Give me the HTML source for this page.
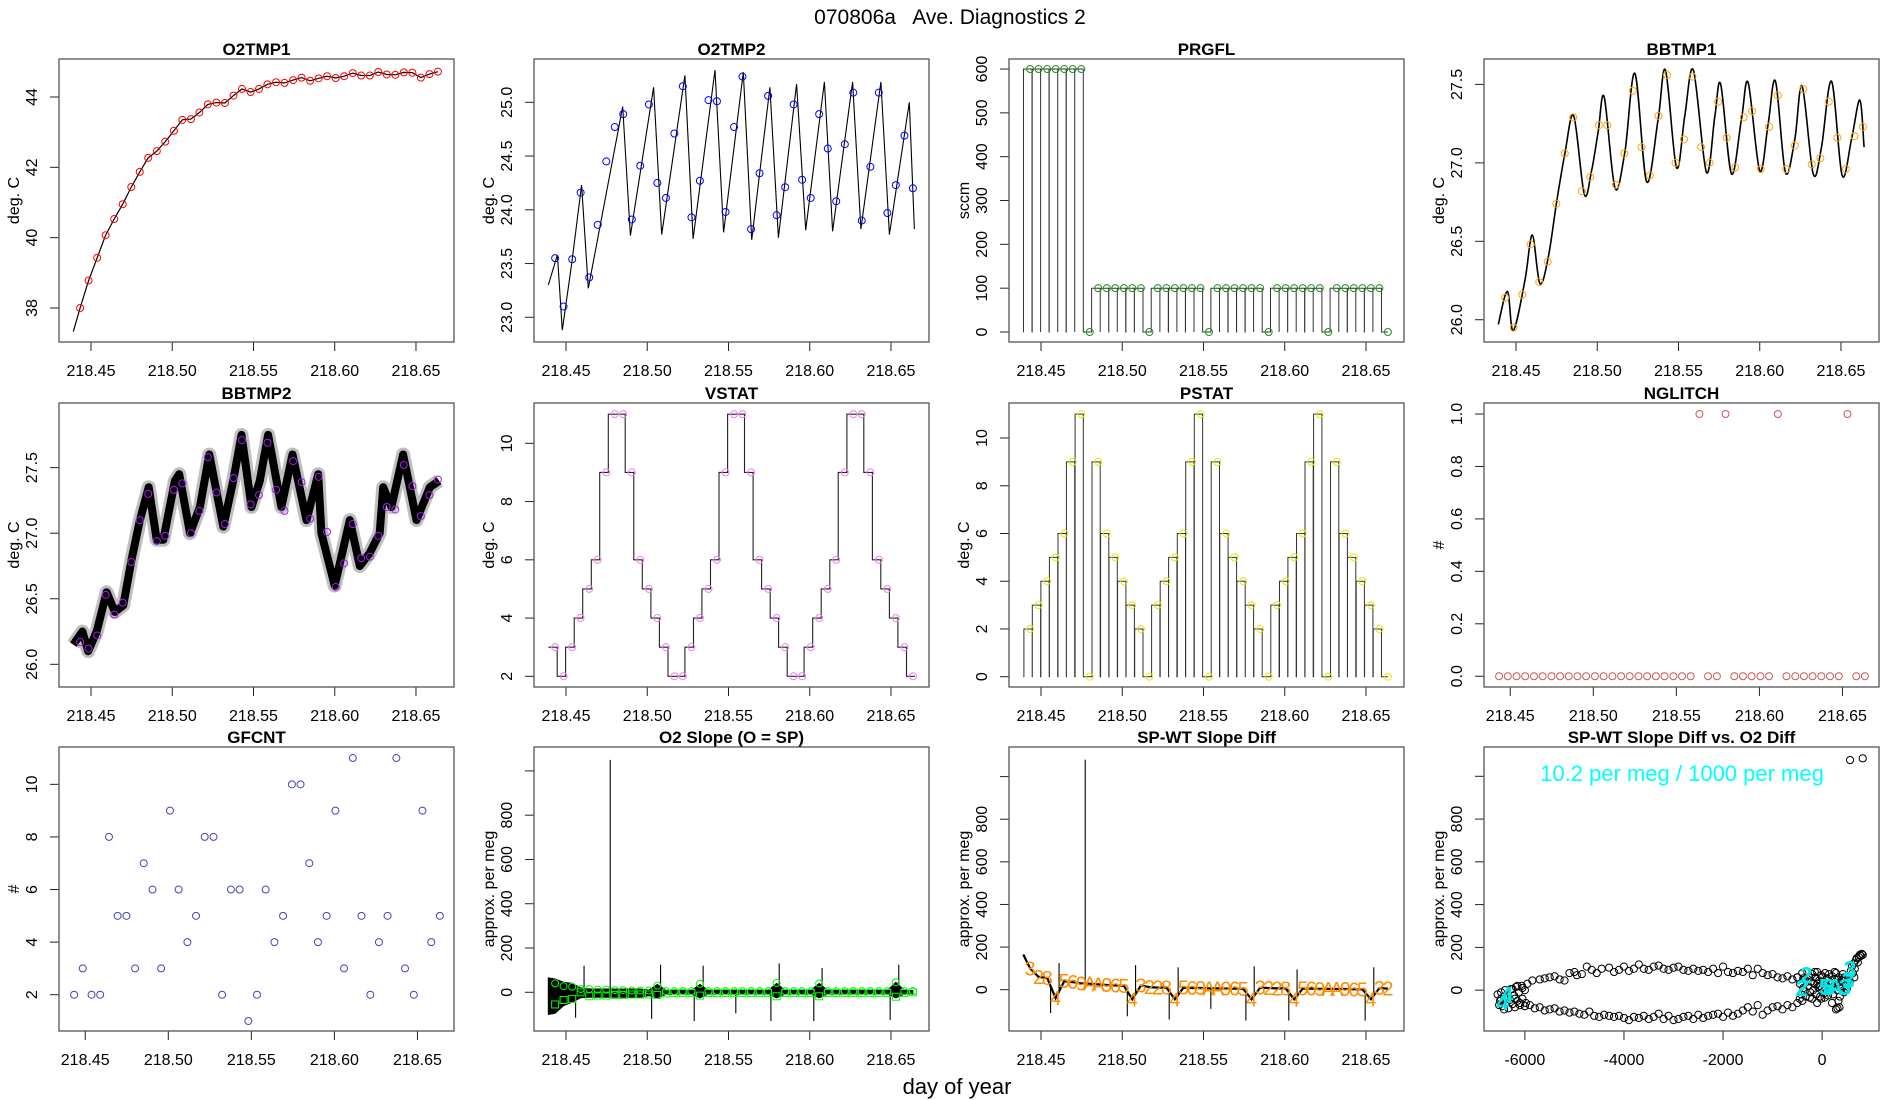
<!DOCTYPE html>
<html><head><meta charset="utf-8"><title>070806a Ave. Diagnostics 2</title>
<style>
html,body{margin:0;padding:0;background:#fff;}
svg{display:block;font-family:"Liberation Sans",sans-serif;}
</style></head>
<body>
<svg id="chart" width="1900" height="1100" viewBox="0 0 1900 1100" xmlns="http://www.w3.org/2000/svg">
<rect x="0" y="0" width="1900" height="1100" fill="#fff"/>
<text x="950" y="24" text-anchor="middle" font-size="21" style="white-space:pre">070806a   Ave. Diagnostics 2</text>
<text x="957" y="1094" text-anchor="middle" font-size="22">day of year</text>
</svg>
<script>
// ---------- shared data ----------
const markerDays = [218.4433,218.4485,218.4538,218.4590,218.4643,218.4695,218.4748,218.4800,218.4852,218.4905,218.4957,218.5010,218.5062,218.5115,218.5167,218.5219,218.5272,218.5324,218.5377,218.5429,218.5482,218.5534,218.5586,218.5639,218.5691,218.5744,218.5796,218.5849,218.5901,218.5953,218.6006,218.6058,218.6111,218.6163,218.6216,218.6268,218.6320,218.6373,218.6425,218.6478,218.6530,218.6583,218.6635];
const lineStartDay = 218.4391;
const timeTicks = [218.45,218.50,218.55,218.60,218.65];
const timeTickLabels = ["218.45","218.50","218.55","218.60","218.65"];

// O2TMP1
const o2tmp1Start = 37.33;
const o2tmp1 = [38.0,38.78,39.43,40.07,40.53,40.95,41.44,41.87,42.27,42.46,42.73,43.04,43.35,43.37,43.56,43.79,43.84,43.83,44.04,44.23,44.14,44.23,44.36,44.42,44.40,44.48,44.55,44.46,44.53,44.59,44.54,44.59,44.68,44.61,44.61,44.71,44.64,44.63,44.70,44.69,44.55,44.65,44.72];

// O2TMP2
const o2tmp2Marks = [23.55,23.10,23.54,24.16,23.37,23.86,24.45,24.77,24.89,23.91,24.41,24.98,24.25,24.11,24.71,25.15,23.93,24.27,25.02,25.01,23.98,24.77,25.24,23.82,24.34,25.06,23.95,24.21,24.98,24.28,24.11,24.89,24.57,24.08,24.61,25.09,23.90,24.40,25.09,23.97,24.23,24.69,24.20];
const o2tmp2LineDays = [218.4391,218.4447,218.4477,218.4535,218.4596,218.4637,218.4849,218.4896,218.5039,218.5089,218.5232,218.5282,218.5417,218.5470,218.5591,218.5643,218.5755,218.5807,218.5919,218.5975,218.6090,218.6141,218.6264,218.6315,218.6438,218.6490,218.6613,218.6644];
const o2tmp2Line = [23.30,23.58,22.88,23.50,24.23,23.27,24.96,23.76,25.14,23.77,25.25,23.73,25.30,23.79,25.28,23.72,25.14,23.74,25.17,23.81,25.19,23.80,25.19,23.82,25.19,23.77,25.00,23.82];

// PRGFL
const prgfl = [600,600,600,600,600,600,600,0,100,100,100,100,100,100,0,100,100,100,100,100,100,0,100,100,100,100,100,100,0,100,100,100,100,100,100,0,100,100,100,100,100,100,0];

// BBTMP1
const bbtmp1Marks = [26.14,25.95,26.16,26.48,26.24,26.37,26.74,27.06,27.29,26.82,26.91,27.24,27.24,26.86,27.06,27.46,27.10,26.92,27.30,27.56,27.00,27.15,27.55,27.10,27.00,27.39,27.16,26.97,27.29,27.33,26.96,27.23,27.43,26.96,27.11,27.47,26.99,27.03,27.39,27.16,26.96,27.17,27.23];
const bbtmp1LineDays = [218.4391,218.4447,218.4483,218.4555,218.4600,218.4647,218.4699,218.4750,218.4801,218.4855,218.4920,218.4965,218.5006,218.5043,218.5109,218.5170,218.5232,218.5304,218.5375,218.5420,218.5488,218.5539,218.5592,218.5672,218.5724,218.5760,218.5826,218.5888,218.5929,218.6000,218.6052,218.6097,218.6158,218.6216,218.6261,218.6329,218.6380,218.6442,218.6507,218.6565,218.6616,218.6642];
const bbtmp1Line = [25.97,26.18,25.93,26.25,26.54,26.23,26.40,26.75,27.06,27.30,26.80,26.95,27.20,27.42,26.84,27.07,27.57,26.88,27.28,27.59,26.97,27.30,27.59,26.94,27.30,27.50,26.93,27.28,27.51,26.95,27.25,27.52,26.94,27.15,27.49,26.93,27.10,27.52,26.92,27.15,27.40,27.10];

// BBTMP2
const bbtmp2Marks = [26.17,26.12,26.22,26.53,26.38,26.47,26.78,27.10,27.30,26.94,26.98,27.33,27.38,27.00,27.17,27.58,27.31,27.07,27.42,27.71,27.22,27.29,27.69,27.33,27.17,27.55,27.39,27.11,27.43,27.01,26.59,26.77,27.07,26.81,26.82,26.98,27.20,27.18,27.52,27.36,27.13,27.29,27.41];
const bbtmp2LineDays = [218.4391,218.4447,218.4483,218.4535,218.4596,218.4647,218.4699,218.4750,218.4801,218.4855,218.4904,218.4945,218.5016,218.5043,218.5109,218.5170,218.5228,218.5314,218.5375,218.5426,218.5488,218.5539,218.5590,218.5672,218.5740,218.5826,218.5898,218.5918,218.6000,218.6093,218.6154,218.6216,218.6277,218.6298,218.6349,218.6421,218.6503,218.6585,218.6642];
const bbtmp2Line = [26.15,26.25,26.10,26.25,26.55,26.40,26.45,26.80,27.10,27.35,26.95,26.95,27.40,27.45,27.00,27.20,27.60,27.05,27.40,27.75,27.20,27.40,27.75,27.20,27.60,27.10,27.45,27.00,26.60,27.10,26.75,26.85,27.00,27.35,27.20,27.60,27.10,27.35,27.40];

// VSTAT / PSTAT / NGLITCH / GFCNT
const vstat = [3,2,3,4,5,6,9,11,11,9,6,5,4,3,2,2,3,4,5,6,9,11,11,9,6,5,4,3,2,2,3,4,5,6,9,11,11,9,6,5,4,3,2];
const pstat = [2,3,4,5,6,9,11,0,9,6,5,4,3,2,0,3,4,5,6,9,11,0,9,6,5,4,3,2,0,3,4,5,6,9,11,0,9,6,5,4,3,2,0];
const nglitch = [0,0,0,0,0,0,0,0,0,0,0,0,0,0,0,0,0,0,0,0,0,0,0,1,0,0,1,0,0,0,0,0,1,0,0,0,0,0,0,0,1,0,0];
const gfcnt = [2,3,2,2,8,5,5,3,7,6,3,9,6,4,5,8,8,2,6,6,1,2,6,4,5,10,10,7,4,5,9,3,11,5,2,4,5,11,3,2,9,4,5];

// O2 slope
const o2Upper = [60,45,40,20,15,15,15,15,15,15,15,10,35,10,8,8,8,35,8,8,8,8,8,8,8,8,40,8,8,8,8,40,8,8,8,8,8,8,8,8,45,8,8];
const o2Lower = [-95,-60,-45,-25,-22,-22,-22,-22,-22,-22,-22,-15,-25,-10,-8,-8,-8,-25,-8,-8,-8,-8,-8,-8,-8,-8,-25,-8,-8,-8,-8,-25,-8,-8,-8,-8,-8,-8,-8,-8,-25,-8,-8];
const o2StartUpper = 65, o2StartLower = -100;
const o2Circles = [40,28,25,15,15,12,12,10,10,8,8,8,30,5,5,5,5,38,5,5,5,5,5,5,5,5,42,5,5,5,5,40,5,5,5,5,5,5,5,5,45,5,5];
const o2Squares = [-55,-35,-30,0,-18,-15,-15,-12,-12,-10,-10,-10,-12,-5,-3,-3,-3,-15,-3,-3,-3,-3,-3,-3,-3,-3,-18,-3,-3,-3,-3,-18,-3,-3,-3,-3,-3,-3,-3,-3,-20,-3,0];
const o2SpikeDays = [218.4559,218.4611,218.4772,218.5027,218.5082,218.5289,218.5344,218.5545,218.5761,218.5812,218.6025,218.6076,218.6495,218.6548];
const o2SpikeVals = [-115,120,1050,-120,125,-130,120,-95,-130,130,-130,110,-125,125];

// SP-WT slope diff
const spwtStart = 165;
const spwtVals = [100,60,55,-40,40,35,30,28,25,22,20,18,-45,20,12,10,10,-45,10,8,8,6,6,5,5,4,-45,10,8,6,6,-45,5,5,4,4,3,3,2,2,-45,8,5];
const spwtLabels = ["3","2","8","4","5","6","9","A","A","9","6","5","4","3","2","2","8","4","5","6","9","A","A","9","6","5","4","3","2","2","8","4","5","6","9","A","A","9","6","5","4","3","2"];
const spwtSpikeDays = [218.4559,218.4611,218.4772,218.5031,218.5082,218.5289,218.5344,218.5545,218.5761,218.5812,218.6025,218.6076,218.6495,218.6548];
const spwtSpikeVals = [-110,125,1080,-125,115,-140,105,-90,-145,110,-145,95,-145,105];

// scatter: SP-WT slope diff vs O2 diff
const upperArc = [[-6250,5],[-6150,20],[-6050,10],[-5950,30],[-5850,45],[-5700,50],[-5600,55],[-5500,60],[-5400,65],[-5300,50],[-5200,45],[-5100,80],[-5000,85],[-4950,70],[-4850,75],[-4750,110],[-4650,95],[-4550,80],[-4450,100],[-4300,105],[-4200,85],[-4100,95],[-4000,110],[-3900,90],[-3800,100],[-3700,120],[-3600,100],[-3500,95],[-3400,110],[-3300,115],[-3200,100],[-3100,95],[-3000,105],[-2900,110],[-2800,95],[-2700,90],[-2600,100],[-2500,90],[-2400,95],[-2300,85],[-2200,100],[-2100,80],[-2000,110],[-1900,85],[-1800,80],[-1700,90],[-1600,85],[-1500,100],[-1400,70],[-1300,100],[-1200,80],[-1100,70],[-1000,75],[-900,60],[-800,55],[-700,65],[-600,50],[-500,60]];
const lowerArc = [[-6200,-40],[-6100,-60],[-6000,-75],[-5900,-70],[-5800,-85],[-5700,-80],[-5600,-95],[-5500,-90],[-5400,-85],[-5300,-100],[-5200,-95],[-5100,-105],[-5000,-100],[-4900,-110],[-4800,-115],[-4700,-100],[-4600,-120],[-4500,-125],[-4400,-115],[-4300,-120],[-4200,-125],[-4100,-120],[-4000,-130],[-3900,-140],[-3800,-125],[-3700,-130],[-3600,-120],[-3500,-135],[-3400,-125],[-3300,-110],[-3200,-135],[-3100,-120],[-3000,-140],[-2900,-135],[-2800,-125],[-2700,-120],[-2600,-135],[-2500,-115],[-2400,-130],[-2300,-120],[-2200,-115],[-2100,-110],[-2000,-125],[-1900,-105],[-1800,-120],[-1700,-110],[-1600,-95],[-1500,-80],[-1400,-100],[-1300,-70],[-1200,-115],[-1100,-95],[-1000,-80],[-900,-75],[-800,-90],[-700,-70],[-600,-80],[-500,-60],[-400,-50]];
const leftCluster = [[-6550,-20],[-6500,-50],[-6480,-10],[-6450,-75],[-6420,-30],[-6400,0],[-6380,-60],[-6350,-20],[-6330,-85],[-6300,-45],[-6280,5],[-6250,-65],[-6220,-25],[-6200,-80],[-6180,15],[-6150,-50],[-6120,-10],[-6100,-70],[-6060,20],[-6050,-40],[-6000,0],[-5980,-60],[-6420,-90],[-6480,-40],[-6520,-70]];
const rightCluster = [[-500,60],[-450,30],[-420,-20],[-400,80],[-380,10],[-350,50],[-330,-30],[-300,85],[-280,20],[-260,60],[-240,-10],[-220,40],[-200,75],[-180,0],[-160,30],[-140,60],[-120,-20],[-100,85],[-80,15],[-60,45],[-40,-30],[-20,70],[0,10],[20,40],[40,-15],[60,80],[80,25],[100,55],[120,-25],[140,75],[160,5],[180,35],[200,65],[220,-20],[240,20],[260,50],[280,80],[300,0],[320,35],[340,60],[360,-30],[380,15],[400,45],[420,75],[440,-10],[460,30],[480,55],[500,5],[-350,-5],[-250,-35],[-150,85],[-50,20],[50,-35],[150,-5],[250,85],[350,25],[450,60],[-300,40],[-200,-40],[-100,30],[0,60],[100,-5],[200,30],[300,50],[400,10],[500,40],[-450,-40],[-380,55],[-20,-40],[330,-50],[350,-80],[-100,-60],[200,-60],[280,-90],[310,-85]];
const plume = [[550,60],[580,90],[600,110],[620,80],[640,125],[660,100],[680,140],[700,150],[720,130],[740,155],[760,165],[780,160],[800,170],[820,165],[560,40],[650,60]];
const outliers = [[564,1076],[819,1084]];
const cyanLabelText = ["4","4","2","2","5","6","A","3","3","3"];
const cyanLabelX = [-6360,-6449,-322,-409,60,140,260,463,564,530];
const cyanLabelY = [-23,-55,70,10,14,14,14,14,98,47];
const slopeTicks = [0,200,400,600,800,1000];
const slopeTickLabels = ["0","200","400","600","800",""];

// ---------- drawing helpers ----------
const svg = document.getElementById('chart');
const NS = 'http://www.w3.org/2000/svg';
function mk(tag, attrs, name, parent) {
  const e = document.createElementNS(NS, tag);
  for (const k in attrs) e.setAttribute(k, attrs[k]);
  
  
  (parent || svg).appendChild(e);
  return e;
}
function txt(x, y, s, attrs, name, parent) {
  const t = mk('text', Object.assign({x: x, y: y}, attrs), name, parent);
  t.textContent = s;
  return t;
}
const XA = [218.4303, 218.6734], XB = [218.4342, 218.6720];
let clipId = 0;
function panel(c, r, cfg) {
  const L = 59 + 475 * c, R = L + 395, T = [59, 403, 747][r], B = [342, 687, 1031][r];
  const g = mk('g', {}, cfg.name + '-panel');
  const sx = v => L + (v - cfg.xlim[0]) / (cfg.xlim[1] - cfg.xlim[0]) * (R - L);
  const sy = v => B - (v - cfg.ylim[0]) / (cfg.ylim[1] - cfg.ylim[0]) * (B - T);
  const xt = cfg.xticks;
  mk('line', {x1: sx(xt[0]), x2: sx(xt[xt.length - 1]), y1: B, y2: B, stroke: '#222', 'stroke-width': 1}, cfg.name + '-x-axis-line', g);
  xt.forEach((v, i) => {
    mk('line', {x1: sx(v), x2: sx(v), y1: B, y2: B + 9, stroke: '#222', 'stroke-width': 1}, cfg.name + '-x-tick', g);
    txt(sx(v), B + 34, cfg.xlabels[i], {'text-anchor': 'middle', 'font-size': 16}, cfg.name + '-x-tick-label', g);
  });
  const yt = cfg.yticks;
  mk('line', {x1: L, x2: L, y1: sy(yt[0]), y2: sy(yt[yt.length - 1]), stroke: '#222', 'stroke-width': 1}, cfg.name + '-y-axis-line', g);
  yt.forEach((v, i) => {
    mk('line', {x1: L - 9, x2: L, y1: sy(v), y2: sy(v), stroke: '#222', 'stroke-width': 1}, cfg.name + '-y-tick', g);
    if (cfg.ylabels[i]) {
      const y = sy(v);
      txt(L - 22, y, cfg.ylabels[i], {'text-anchor': 'middle', 'font-size': 16, transform: 'rotate(-90 ' + (L - 22) + ' ' + y + ')'}, cfg.name + '-y-tick-label', g);
    }
  });
  const yc = (T + B) / 2;
  txt(L - 40, yc, cfg.ylab, {'text-anchor': 'middle', 'font-size': 16, transform: 'rotate(-90 ' + (L - 40) + ' ' + yc + ')'}, cfg.name + '-y-axis-title', g);
  txt((L + R) / 2, T - 4, cfg.title, {'text-anchor': 'middle', 'font-size': 17, 'font-weight': 'bold'}, cfg.name + '-title', g);
  clipId++;
  const cp = mk('clipPath', {id: 'clip' + clipId}, cfg.name + '-clip', g);
  mk('rect', {x: L, y: T, width: R - L, height: B - T}, cfg.name + '-clip-rect', cp);
  const plot = mk('g', {'clip-path': 'url(#clip' + clipId + ')'}, cfg.name + '-plot-area', g);
  return {g, plot, sx, sy, L, R, T, B, finish: () => {
    mk('rect', {x: L, y: T, width: R - L, height: B - T, fill: 'none', stroke: '#555', 'stroke-width': 1.3}, cfg.name + '-frame', g);
  }};
}
function pathFrom(xs, ys, P) {
  return xs.map((x, i) => (i ? 'L' : 'M') + P.sx(x).toFixed(1) + ' ' + P.sy(ys[i]).toFixed(1)).join(' ');
}
function circles(P, xs, ys, color, name) {
  xs.forEach((x, i) => {
    mk('circle', {cx: P.sx(x), cy: P.sy(ys[i]), r: 3.5, fill: 'none', stroke: color, 'stroke-width': 1}, name, P.plot);
  });
}
function tsCfg(name, title, ylab, ylim, yticks, ylabels, xlim) {
  return {name, title, ylab, ylim, yticks, ylabels, xlim: xlim || XA, xticks: timeTicks, xlabels: timeTickLabels};
}
const dx = markerDays[1] - markerDays[0];

// ---------- P1 O2TMP1 ----------
(function () {
  const P = panel(0, 0, tsCfg('o2tmp1', 'O2TMP1', 'deg. C', [37.033, 45.08], [38, 40, 42, 44], ['38', '40', '42', '44']));
  mk('path', {d: pathFrom([lineStartDay].concat(markerDays), [o2tmp1Start].concat(o2tmp1), P), fill: 'none', stroke: '#000', 'stroke-width': 1.2}, 'o2tmp1-line', P.plot);
  circles(P, markerDays, o2tmp1, '#ff0000', 'o2tmp1-point');
  P.finish();
})();

// ---------- P2 O2TMP2 ----------
(function () {
  const P = panel(1, 0, tsCfg('o2tmp2', 'O2TMP2', 'deg. C', [22.770, 25.403], [23, 23.5, 24, 24.5, 25], ['23.0', '23.5', '24.0', '24.5', '25.0']));
  mk('path', {d: pathFrom(o2tmp2LineDays, o2tmp2Line, P), fill: 'none', stroke: '#000', 'stroke-width': 1.1}, 'o2tmp2-line', P.plot);
  circles(P, markerDays, o2tmp2Marks, '#0000ff', 'o2tmp2-point');
  P.finish();
})();

// ---------- P3 PRGFL ----------
function pulsePath(P, vals, rise, fall) {
  let d = 'M' + P.sx(lineStartDay).toFixed(1) + ' ' + P.sy(0).toFixed(1);
  vals.forEach((v, i) => {
    const x = markerDays[i];
    if (v > 0) {
      const a = P.sx(x - rise * dx).toFixed(1), b = P.sx(x + fall * dx).toFixed(1);
      d += ' L' + a + ' ' + P.sy(0).toFixed(1) + ' L' + a + ' ' + P.sy(v).toFixed(1) + ' L' + b + ' ' + P.sy(v).toFixed(1) + ' L' + b + ' ' + P.sy(0).toFixed(1);
    }
  });
  d += ' L' + P.sx(markerDays[markerDays.length - 1]).toFixed(1) + ' ' + P.sy(0).toFixed(1);
  return d;
}
(function () {
  const P = panel(2, 0, tsCfg('prgfl', 'PRGFL', 'sccm', [-22.8, 622.9], [0, 100, 200, 300, 400, 500, 600], ['0', '100', '200', '300', '400', '500', '600']));
  mk('path', {d: pulsePath(P, prgfl, 0.78, 0.24), fill: 'none', stroke: '#333', 'stroke-width': 1}, 'prgfl-line', P.plot);
  circles(P, markerDays, prgfl, '#228b22', 'prgfl-point');
  P.finish();
})();

// ---------- P4 BBTMP1 ----------
function smoothPath(xs, ys, P) {
  const pts = xs.map((x, i) => [P.sx(x), P.sy(ys[i])]);
  let d = 'M' + pts[0][0].toFixed(1) + ' ' + pts[0][1].toFixed(1);
  for (let i = 0; i < pts.length - 1; i++) {
    const p0 = pts[Math.max(0, i - 1)], p1 = pts[i], p2 = pts[i + 1], p3 = pts[Math.min(pts.length - 1, i + 2)];
    const c1 = [p1[0] + (p2[0] - p0[0]) / 6, p1[1] + (p2[1] - p0[1]) / 6];
    const c2 = [p2[0] - (p3[0] - p1[0]) / 6, p2[1] - (p3[1] - p1[1]) / 6];
    d += ' C' + c1[0].toFixed(1) + ' ' + c1[1].toFixed(1) + ' ' + c2[0].toFixed(1) + ' ' + c2[1].toFixed(1) + ' ' + p2[0].toFixed(1) + ' ' + p2[1].toFixed(1);
  }
  return d;
}
(function () {
  const P = panel(3, 0, tsCfg('bbtmp1', 'BBTMP1', 'deg. C', [25.858, 27.662], [26, 26.5, 27, 27.5], ['26.0', '26.5', '27.0', '27.5']));
  mk('path', {d: smoothPath(bbtmp1LineDays, bbtmp1Line, P), fill: 'none', stroke: '#000', 'stroke-width': 1.6}, 'bbtmp1-line', P.plot);
  circles(P, markerDays, bbtmp1Marks, '#ffa500', 'bbtmp1-point');
  P.finish();
})();

// ---------- P5 BBTMP2 ----------
(function () {
  const P = panel(0, 1, tsCfg('bbtmp2', 'BBTMP2', 'deg. C', [25.827, 27.993], [26, 26.5, 27, 27.5], ['26.0', '26.5', '27.0', '27.5']));
  mk('path', {d: pathFrom(bbtmp2LineDays, bbtmp2Line, P), fill: 'none', stroke: '#000', 'stroke-width': 14, 'stroke-opacity': 0.25, 'stroke-linejoin': 'round'}, 'bbtmp2-noise-halo', P.plot);
  mk('path', {d: pathFrom(bbtmp2LineDays, bbtmp2Line, P), fill: 'none', stroke: '#000', 'stroke-width': 8, 'stroke-linejoin': 'round'}, 'bbtmp2-noise-band', P.plot);
  circles(P, markerDays, bbtmp2Marks, '#a020f0', 'bbtmp2-point');
  P.finish();
})();

// ---------- P6 VSTAT ----------
(function () {
  const P = panel(1, 1, tsCfg('vstat', 'VSTAT', 'deg. C', [1.633, 11.384], [2, 4, 6, 8, 10], ['2', '4', '6', '8', '10']));
  let d = 'M' + P.sx(lineStartDay).toFixed(1) + ' ' + P.sy(vstat[0]).toFixed(1);
  vstat.forEach((v, i) => {
    const xe = P.sx(markerDays[i] + 0.24 * dx).toFixed(1);
    d += ' L' + xe + ' ' + P.sy(v).toFixed(1);
    if (i < vstat.length - 1) d += ' L' + xe + ' ' + P.sy(vstat[i + 1]).toFixed(1);
  });
  mk('path', {d: d, fill: 'none', stroke: '#222', 'stroke-width': 1.1}, 'vstat-line', P.plot);
  circles(P, markerDays, vstat, '#ee82ee', 'vstat-point');
  P.finish();
})();

// ---------- P7 PSTAT ----------
(function () {
  const P = panel(2, 1, tsCfg('pstat', 'PSTAT', 'deg. C', [-0.431, 11.467], [0, 2, 4, 6, 8, 10], ['0', '2', '4', '6', '8', '10']));
  mk('path', {d: pulsePath(P, pstat, 0.74, 0.24), fill: 'none', stroke: '#333', 'stroke-width': 1}, 'pstat-line', P.plot);
  circles(P, markerDays, pstat, '#e8e800', 'pstat-point');
  P.finish();
})();

// ---------- P8 NGLITCH ----------
(function () {
  const P = panel(3, 1, tsCfg('nglitch', 'NGLITCH', '#', [-0.041, 1.042], [0, 0.2, 0.4, 0.6, 0.8, 1.0], ['0.0', '0.2', '0.4', '0.6', '0.8', '1.0'], XB));
  circles(P, markerDays, nglitch, '#cd5555', 'nglitch-point');
  P.finish();
})();

// ---------- P9 GFCNT ----------
(function () {
  const P = panel(0, 2, tsCfg('gfcnt', 'GFCNT', '#', [0.620, 11.42], [2, 4, 6, 8, 10], ['2', '4', '6', '8', '10'], XB));
  circles(P, markerDays, gfcnt, '#4444bb', 'gfcnt-point');
  P.finish();
})();

// ---------- P10 O2 Slope ----------
function interp(xs, ys, x) {
  if (x <= xs[0]) return ys[0];
  for (let i = 1; i < xs.length; i++) if (x <= xs[i]) return ys[i - 1] + (ys[i] - ys[i - 1]) * (x - xs[i - 1]) / (xs[i] - xs[i - 1]);
  return ys[ys.length - 1];
}
(function () {
  const P = panel(1, 2, tsCfg('o2slope', 'O2 Slope (O = SP)', 'approx. per meg', [-174.9, 1108], slopeTicks, slopeTickLabels));
  const ex = [lineStartDay].concat(markerDays);
  const up = [o2StartUpper].concat(o2Upper), lo = [o2StartLower].concat(o2Lower);
  let d = pathFrom(ex, up, P);
  for (let i = ex.length - 1; i >= 0; i--) d += ' L' + P.sx(ex[i]).toFixed(1) + ' ' + P.sy(lo[i]).toFixed(1);
  mk('path', {d: d + ' Z', fill: '#000', stroke: '#000', 'stroke-width': 1}, 'o2slope-band', P.plot);
  o2SpikeDays.forEach((x, i) => {
    mk('line', {x1: P.sx(x), x2: P.sx(x), y1: P.sy(0), y2: P.sy(o2SpikeVals[i]), stroke: '#000', 'stroke-width': 1.1}, 'o2slope-spike', P.plot);
  });
  markerDays.forEach((x, i) => {
    mk('rect', {x: P.sx(x) - 3.5, y: P.sy(o2Squares[i]) - 3.5, width: 7, height: 7, fill: 'none', stroke: '#00ff00', 'stroke-width': 1}, 'o2slope-square-point', P.plot);
  });
  circles(P, markerDays, o2Circles, '#00ff00', 'o2slope-circle-point');
  P.finish();
})();

// ---------- P11 SP-WT Slope Diff ----------
(function () {
  const P = panel(2, 2, tsCfg('spwt', 'SP-WT Slope Diff', 'approx. per meg', [-193.9, 1139], slopeTicks, slopeTickLabels));
  const lx = [lineStartDay].concat(markerDays), ly = [spwtStart].concat(spwtVals);
  mk('path', {d: pathFrom(lx, ly, P), fill: 'none', stroke: '#000', 'stroke-width': 2.2}, 'spwt-line', P.plot);
  spwtSpikeDays.forEach((x, i) => {
    mk('line', {x1: P.sx(x), x2: P.sx(x), y1: P.sy(interp(lx, ly, x)), y2: P.sy(spwtSpikeVals[i]), stroke: '#000', 'stroke-width': 1.1}, 'spwt-spike', P.plot);
  });
  markerDays.forEach((x, i) => {
    txt(P.sx(x), P.sy(spwtVals[i]) + 7, spwtLabels[i], {'text-anchor': 'middle', 'font-size': 20, fill: '#ff8c00'}, 'spwt-point-label', P.plot);
  });
  P.finish();
})();

// ---------- P12 scatter ----------
(function () {
  const P = panel(3, 2, {name: 'scatter', title: 'SP-WT Slope Diff vs. O2 Diff', ylab: 'approx. per meg', xlim: [-6825, 1148], ylim: [-191, 1137], xticks: [-6000, -4000, -2000, 0], xlabels: ['-6000', '-4000', '-2000', '0'], yticks: slopeTicks, ylabels: slopeTickLabels});
  [upperArc, lowerArc, leftCluster, rightCluster, plume, outliers].forEach(set => {
    set.forEach(p => {
      mk('circle', {cx: P.sx(p[0]), cy: P.sy(p[1]), r: 3.6, fill: 'none', stroke: '#000', 'stroke-width': 1}, 'scatter-point', P.plot);
    });
  });
  cyanLabelText.forEach((s, i) => {
    txt(P.sx(cyanLabelX[i]), P.sy(cyanLabelY[i]) + 8, s, {'text-anchor': 'middle', 'font-size': 23, fill: '#00e5e5', 'font-weight': 'bold'}, 'scatter-cycle-label', P.plot);
  });
  txt(1682, 781, '10.2 per meg / 1000 per meg', {'text-anchor': 'middle', 'font-size': 22, fill: '#00ffff'}, 'ratio-annotation', P.plot);
  P.finish();
})();
</script>
</body></html>
